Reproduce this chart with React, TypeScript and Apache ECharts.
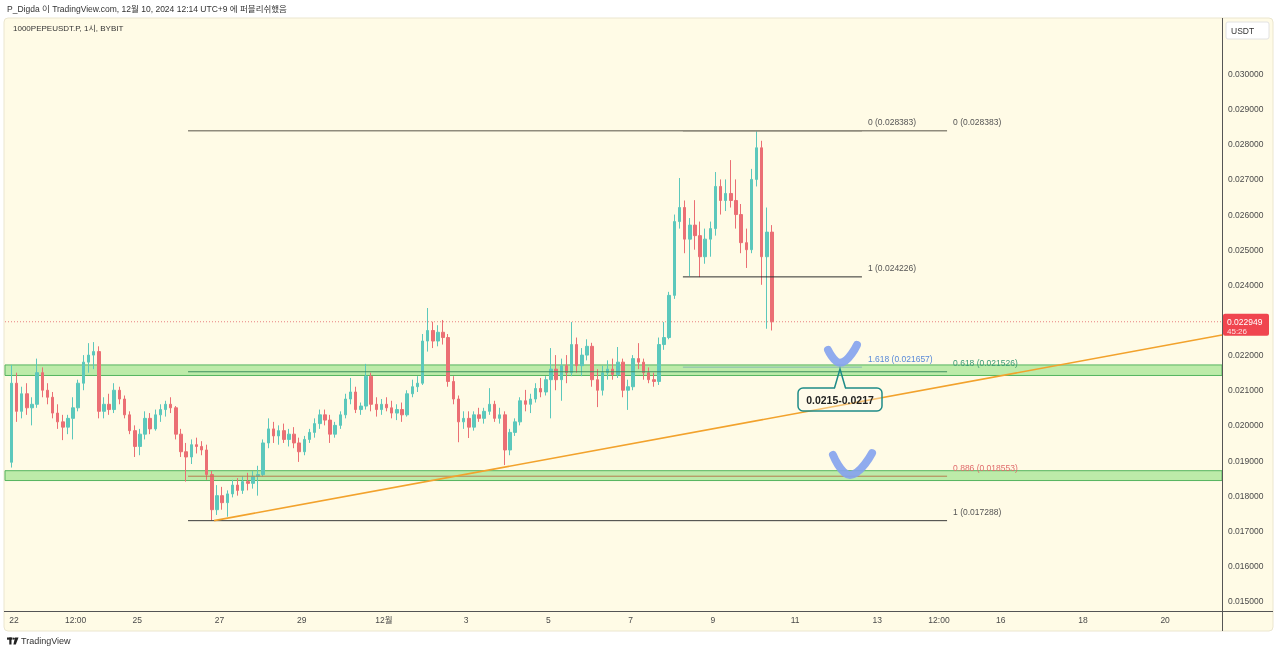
import React, { useEffect, useRef } from "react";
import * as echarts from "echarts";

// ---- time axis (hours from Nov 22 00:00, UTC+9) ----
const START_HOUR = -3; // first 3h candle opens Nov 21 21:00
const STEP_HOURS = 3;
const X_MIN = -5.25;
const X_MAX = 705.2;
const X_TICK_HOURS = [0, 36, 72, 120, 168, 216, 264, 312, 360, 408, 456, 504, 540, 576, 624, 672];
const X_TICK_LABELS = ["22", "12:00", "25", "27", "29", "12월", "3", "5", "7", "9", "11", "13", "12:00", "16", "18", "20"];

// ---- price axis ----
const Y_MIN = 0.014717;
const Y_MAX = 0.031594;
const Y_TICKS = [0.015, 0.016, 0.017, 0.018, 0.019, 0.02, 0.021, 0.022, 0.023, 0.024, 0.025, 0.026, 0.027, 0.028, 0.029, 0.03];

// ---- 3h candles, prices in units of 0.00001 USDT ----
const OPEN = [
  1895, 2120, 2040, 2090, 2050, 2060, 2150, 2100, 2080, 2035, 2010, 1995, 2020, 2050, 2120, 2180, 2200, 2210, 2040, 2060,
  2045, 2100, 2075, 2030, 1985, 1940, 1975, 2020, 1990, 2030, 2045, 2060, 2050, 1975, 1925, 1910, 1945, 1940, 1930, 1860,
  1760, 1800, 1780, 1805, 1830, 1815, 1840, 1835, 1855, 1860, 1950, 1990, 1970, 1985, 1960, 1975, 1950, 1925, 1960, 1980,
  2005, 2030, 2015, 1975, 2000, 2030, 2075, 2095, 2045, 2055, 2140, 2060, 2045, 2060, 2050, 2035, 2045, 2030, 2090, 2110,
  2120, 2240, 2270, 2240, 2265, 2250, 2125, 2075, 2010, 2020, 1995, 2030, 2020, 2040, 2060, 2020, 2030, 1930, 1980, 2010,
  2070, 2060, 2075, 2105, 2095, 2130, 2160, 2130, 2170, 2150, 2230, 2170, 2200, 2225, 2130, 2100, 2150, 2160, 2145, 2180,
  2100, 2110, 2190, 2180, 2150, 2130, 2125, 2230, 2250, 2370, 2580, 2620, 2530, 2570, 2540, 2480, 2530, 2560, 2680, 2640,
  2660, 2640, 2600, 2520, 2500, 2700, 2790, 2480, 2550,
];
const HIGH = [
  2172, 2150, 2110, 2120, 2080, 2190, 2165, 2120, 2095, 2060, 2030, 2030, 2080, 2130, 2200, 2234, 2237, 2225, 2080, 2090,
  2120, 2110, 2085, 2040, 2000, 1990, 2040, 2035, 2045, 2060, 2070, 2080, 2055, 1990, 1950, 1960, 1965, 1955, 1945, 1870,
  1830, 1825, 1815, 1845, 1850, 1855, 1865, 1870, 1885, 1960, 2020, 2010, 2000, 2005, 1990, 1995, 1965, 1970, 1990, 2020,
  2045, 2045, 2030, 2010, 2040, 2090, 2135, 2110, 2065, 2175, 2150, 2080, 2075, 2080, 2070, 2060, 2065, 2100, 2130, 2140,
  2260, 2334, 2295, 2285, 2300, 2260, 2140, 2085, 2040, 2040, 2040, 2050, 2050, 2106, 2070, 2050, 2040, 1990, 2020, 2080,
  2101, 2090, 2120, 2135, 2140, 2220, 2200, 2190, 2200, 2294, 2250, 2220, 2245, 2235, 2160, 2170, 2185, 2190, 2223, 2190,
  2130, 2200, 2234, 2190, 2165, 2150, 2250, 2294, 2380, 2600, 2704, 2640, 2590, 2641, 2580, 2560, 2580, 2721, 2700, 2700,
  2755, 2700, 2630, 2560, 2730, 2838, 2810, 2620, 2570,
];
const LOW = [
  1880, 2010, 2020, 2030, 2000, 2050, 2080, 2060, 2020, 1990, 1958, 1975, 1960, 2040, 2100, 2150, 2160, 2020, 2020, 2030,
  2035, 2060, 2020, 1975, 1910, 1915, 1960, 1975, 1985, 2010, 2025, 2035, 1960, 1910, 1840, 1890, 1920, 1915, 1845, 1729,
  1745, 1760, 1740, 1795, 1800, 1805, 1815, 1820, 1800, 1855, 1935, 1950, 1945, 1950, 1940, 1935, 1896, 1915, 1950, 1965,
  1990, 2000, 1950, 1965, 1990, 2020, 2060, 2035, 2030, 2045, 2040, 2025, 2030, 2040, 2020, 2015, 2010, 2025, 2080, 2095,
  2115, 2210, 2220, 2225, 2230, 2110, 2060, 1952, 1990, 1964, 1985, 2010, 2005, 2030, 2010, 2005, 1887, 1915, 1970, 2000,
  2040, 2035, 2065, 2080, 2085, 2020, 2100, 2070, 2120, 2140, 2150, 2140, 2185, 2110, 2052, 2085, 2130, 2130, 2135, 2080,
  2044, 2100, 2160, 2130, 2120, 2110, 2115, 2215, 2245, 2360, 2560, 2490, 2425, 2500, 2422, 2460, 2480, 2540, 2600, 2610,
  2620, 2560, 2490, 2448, 2490, 2680, 2400, 2275, 2270,
];
const CLOSE = [
  2120, 2040, 2090, 2050, 2060, 2150, 2100, 2080, 2035, 2010, 1995, 2020, 2050, 2120, 2180, 2200, 2210, 2040, 2060, 2045,
  2100, 2075, 2030, 1985, 1940, 1975, 2020, 1990, 2030, 2045, 2060, 2050, 1975, 1925, 1910, 1945, 1940, 1930, 1860, 1760,
  1800, 1780, 1805, 1830, 1815, 1840, 1835, 1855, 1860, 1950, 1990, 1970, 1985, 1960, 1975, 1950, 1925, 1960, 1980, 2005,
  2030, 2015, 1975, 2000, 2030, 2075, 2095, 2045, 2055, 2140, 2060, 2045, 2060, 2050, 2035, 2045, 2030, 2090, 2110, 2120,
  2240, 2270, 2240, 2265, 2250, 2125, 2075, 2010, 2020, 1995, 2030, 2020, 2040, 2060, 2020, 2030, 1930, 1980, 2010, 2070,
  2060, 2075, 2105, 2095, 2130, 2160, 2130, 2170, 2150, 2230, 2170, 2200, 2225, 2130, 2100, 2150, 2160, 2145, 2180, 2100,
  2110, 2190, 2180, 2150, 2130, 2125, 2230, 2250, 2370, 2580, 2620, 2530, 2570, 2540, 2480, 2530, 2560, 2680, 2640, 2660,
  2640, 2600, 2520, 2500, 2700, 2790, 2480, 2550, 2294.9,
];
const LAST_PRICE = 0.022949;
const LAST_PRICE_TEXT = "0.022949";
const COUNTDOWN = "45:26";

// ---- drawings ----
const FIB_A_RANGE = [101.6, 544.7];
const FIB_A_RATIOS = ["0", "0.618", "0.886", "1"];
const FIB_A_PRICES = [0.028383, 0.021526, 0.018553, 0.017288];
const FIB_B_RANGE = [390.5, 495];
const FIB_B_RATIOS = ["0", "1", "1.618"];
const FIB_B_PRICES = [0.028383, 0.024226, 0.021657];
const ZONES = [
  [0.02142, 0.02172],
  [0.01843, 0.01871],
];
const TREND_HOURS = [116.8, 705.2];
const TREND_PRICES = [0.01729, 0.02257];
const CHECK1_HOURS = [475.2, 482.2, 492.1];
const CHECK1_PRICES = [0.02215, 0.02178, 0.02229];
const CHECK2_HOURS = [478.1, 488.0, 500.9];
const CHECK2_PRICES = [0.01916, 0.01859, 0.01921];
const CALLOUT_TEXT = "0.0215-0.0217";
const CALLOUT_ANCHOR = [482.2, 0.02166];

const HEADER = "P_Digda 이 TradingView.com, 12월 10, 2024 12:14 UTC+9 에 퍼블리쉬했음";
const TITLE = "1000PEPEUSDT.P, 1시, BYBIT";

const FONT = '"Liberation Sans", Arial, "Noto Sans CJK KR", sans-serif';
const UP = "#5cc8bc";
const DOWN = "#eb6f74";
const BG = "#fffbe6";

export default function App() {
  const ref = useRef<HTMLDivElement>(null);

  useEffect(() => {
    const el = ref.current;
    if (!el) return;
    const chart = echarts.init(el, null, { renderer: "svg" });

    const candles = OPEN.map((o, i) => [
      START_HOUR + i * STEP_HOURS + STEP_HOURS / 2,
      o / 1e5,
      CLOSE[i] / 1e5,
      LOW[i] / 1e5,
      HIGH[i] / 1e5,
    ]);

    const fibAColors = ["#8f8b7c", "#3f8f5f", "#b57e4e", "#3a3a3a"];
    const fibAWidths = [1.5, 1, 1, 1];
    const fibBColors = ["#8f8b7c", "#2d2d2d", "#86b8b0"];
    const fibBWidths = [1.5, 1, 1];

    const fibSeries: any[] = [];
    FIB_A_PRICES.forEach((p, k) => {
      fibSeries.push({
        type: "line",
        silent: true,
        symbol: "none",
        z: 3,
        data: [
          [FIB_A_RANGE[0], p],
          [FIB_A_RANGE[1], p],
        ],
        lineStyle: { color: fibAColors[k], width: fibAWidths[k] },
      });
    });
    FIB_B_PRICES.forEach((p, k) => {
      fibSeries.push({
        type: "line",
        silent: true,
        symbol: "none",
        z: 3,
        data: [
          [FIB_B_RANGE[0], p],
          [FIB_B_RANGE[1], p],
        ],
        lineStyle: { color: fibBColors[k], width: fibBWidths[k] },
      });
    });

    const option: any = {
      animation: false,
      grid: { left: 5, right: 58, top: 18, bottom: 43, outerBoundsMode: "none" },
      xAxis: {
        type: "value",
        min: X_MIN,
        max: X_MAX,
        axisLine: { show: false },
        axisTick: { show: false },
        splitLine: { show: false },
        axisLabel: {
          customValues: X_TICK_HOURS,
          formatter: (v: number) => {
            const k = X_TICK_HOURS.indexOf(v);
            return k >= 0 ? X_TICK_LABELS[k] : "";
          },
          color: "#4a4a4a",
          fontSize: 8.5,
          fontFamily: FONT,
          margin: 5,
        },
      },
      yAxis: {
        type: "value",
        position: "right",
        min: Y_MIN,
        max: Y_MAX,
        axisLine: { show: false },
        axisTick: { show: false },
        splitLine: { show: false },
        axisLabel: {
          customValues: Y_TICKS,
          formatter: (v: number) => v.toFixed(6),
          color: "#4a4a4a",
          fontSize: 8.5,
          fontFamily: FONT,
          margin: 6,
        },
      },
      series: [
        {
          type: "line",
          silent: true,
          symbol: "none",
          z: 1,
          data: [
            [X_MIN, LAST_PRICE],
            [X_MAX, LAST_PRICE],
          ],
          lineStyle: { color: "#e98080", width: 1, type: [1, 2] },
          markArea: {
            silent: true,
            itemStyle: { color: "rgba(108, 214, 96, 0.45)", borderColor: "#55b45f", borderWidth: 1 },
            data: ZONES.map(([lo, hi]) => [{ yAxis: hi }, { yAxis: lo }]),
          },
        },
        ...fibSeries,
        {
          type: "candlestick",
          z: 2,
          barWidth: 3,
          data: candles,
          itemStyle: {
            color: UP,
            color0: DOWN,
            borderColor: UP,
            borderColor0: DOWN,
            borderWidth: 1,
          },
        },
        {
          type: "line",
          silent: true,
          symbol: "none",
          z: 5,
          data: TREND_HOURS.map((h, i) => [h, TREND_PRICES[i]]),
          lineStyle: { color: "#f2a22c", width: 1.6 },
        },
        {
          type: "line",
          silent: true,
          symbol: "none",
          smooth: true,
          z: 6,
          data: CHECK1_HOURS.map((h, i) => [h, CHECK1_PRICES[i]]),
          lineStyle: { color: "rgba(132, 162, 238, 0.9)", width: 8, cap: "round", join: "round" },
        },
        {
          type: "line",
          silent: true,
          symbol: "none",
          smooth: true,
          z: 6,
          data: CHECK2_HOURS.map((h, i) => [h, CHECK2_PRICES[i]]),
          lineStyle: { color: "rgba(132, 162, 238, 0.9)", width: 8, cap: "round", join: "round" },
        },
      ],
    };
    chart.setOption(option);

    const px = (h: number, p: number) => chart.convertToPixel({ gridIndex: 0 }, [h, p]) as number[];
    const txt = (x: number, y: number, text: string, fill: string, size = 8.5, extra: any = {}) => ({
      type: "text",
      x,
      y,
      z: 100,
      silent: true,
      style: { text, fill, fontSize: size, fontFamily: FONT, verticalAlign: "middle", align: "left", ...extra },
    });

    const g: any[] = [];
    // frame
    g.push({
      type: "rect",
      z: -10,
      silent: true,
      shape: { x: 4, y: 18, width: 1269, height: 613, r: 4 },
      style: { fill: BG, stroke: "#ebe6cf", lineWidth: 1 },
    });
    g.push({ type: "line", z: 50, silent: true, shape: { x1: 1222.5, y1: 18, x2: 1222.5, y2: 631 }, style: { stroke: "#555", lineWidth: 1 } });
    g.push({ type: "line", z: 50, silent: true, shape: { x1: 4, y1: 611.5, x2: 1273, y2: 611.5 }, style: { stroke: "#555", lineWidth: 1 } });
    // USDT box
    g.push({
      type: "rect",
      z: 60,
      silent: true,
      shape: { x: 1226, y: 22, width: 43, height: 17, r: 2 },
      style: { fill: "#ffffff", stroke: "#e2e2e2", lineWidth: 1 },
    });
    g.push(txt(1231, 30.5, "USDT", "#333"));
    // header / title
    g.push(txt(7, 9, HEADER, "#333", 8.5));
    g.push(txt(13, 28, TITLE, "#333", 8));

    // fib labels
    const fibALabelColors = ["#555", "#3a9a74", "#e06c6c", "#555"];
    FIB_A_PRICES.forEach((p, k) => {
      const [x, y] = px(FIB_A_RANGE[1], p);
      g.push(txt(x + 6, y - 8.5, `${FIB_A_RATIOS[k]} (${p.toFixed(6)})`, fibALabelColors[k]));
    });
    const fibBLabelColors = ["#555", "#555", "#5a8ad8"];
    FIB_B_PRICES.forEach((p, k) => {
      const [x, y] = px(FIB_B_RANGE[1], p);
      g.push(txt(x + 6, y - 8.5, `${FIB_B_RATIOS[k]} (${p.toFixed(6)})`, fibBLabelColors[k]));
    });

    // callout
    const [ax, ay] = px(CALLOUT_ANCHOR[0], CALLOUT_ANCHOR[1]);
    const bx = ax - 42;
    const by = ay + 21;
    g.push({
      type: "rect",
      z: 90,
      silent: true,
      shape: { x: bx, y: by, width: 84, height: 23, r: 5 },
      style: { fill: "rgba(255,253,240,0.35)", stroke: "#1f8c88", lineWidth: 1.5 },
    });
    g.push({
      type: "rect",
      z: 91,
      silent: true,
      shape: { x: ax - 5, y: by - 1.5, width: 10, height: 3 },
      style: { fill: BG },
    });
    g.push({
      type: "polyline",
      z: 92,
      silent: true,
      shape: { points: [[ax - 5.5, by], [ax, ay + 2], [ax + 5.5, by]] },
      style: { stroke: "#1f8c88", lineWidth: 1.5, fill: null },
    });
    g.push({
      type: "text",
      x: ax,
      y: by + 11.5,
      z: 100,
      silent: true,
      style: {
        text: CALLOUT_TEXT,
        fill: "#222",
        fontSize: 10.5,
        fontWeight: "bold",
        fontFamily: FONT,
        align: "center",
        verticalAlign: "middle",
      },
    });

    // last price tag
    const [, py] = px(0, LAST_PRICE);
    g.push({
      type: "rect",
      z: 95,
      silent: true,
      shape: { x: 1223, y: py - 8, width: 46, height: 22, r: 2 },
      style: { fill: "#f0454f" },
    });
    g.push(txt(1227, py, LAST_PRICE_TEXT, "#ffffff", 8.5));
    g.push(txt(1227, py + 10, COUNTDOWN, "#ffe3e3", 8));

    // footer logo
    g.push({ type: "rect", z: 100, silent: true, shape: { x: 7, y: 637.5, width: 5.5, height: 2.2 }, style: { fill: "#222" } });
    g.push({ type: "rect", z: 100, silent: true, shape: { x: 9.3, y: 637.5, width: 2.2, height: 7 }, style: { fill: "#222" } });
    g.push({ type: "circle", z: 100, silent: true, shape: { cx: 13.8, cy: 638.6, r: 1.1 }, style: { fill: "#222" } });
    g.push({
      type: "polygon",
      z: 100,
      silent: true,
      shape: { points: [[15, 637.5], [18.5, 637.5], [15.8, 644.5], [13.4, 644.5]] },
      style: { fill: "#222" },
    });
    g.push(txt(21, 641, "TradingView", "#333", 9));

    chart.setOption({ graphic: g });

    return () => {
      chart.dispose();
    };
  }, []);

  return <div ref={ref} style={{ position: "fixed", left: 0, top: 0, width: 1280, height: 654 }} />;
}
